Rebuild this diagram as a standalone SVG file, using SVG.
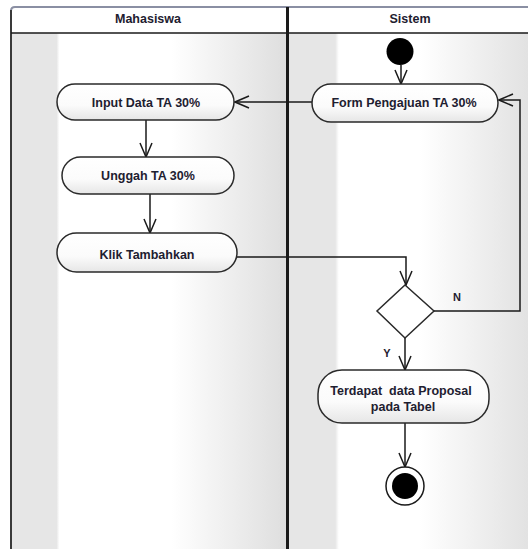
<svg xmlns="http://www.w3.org/2000/svg" width="528" height="549" viewBox="0 0 528 549">
  <style>
    .lbl { font-family: "Liberation Sans", Arial, sans-serif; font-size: 12.5px; font-weight: bold; fill: #1e2030; text-anchor: middle; }
    .act { fill: url(#nodeFill); stroke: #2a2a2a; stroke-width: 1.5; }
    .conn { fill: none; stroke: #1a1a1a; stroke-width: 1.5; }
  </style>
  <defs>
    <linearGradient id="laneL" x1="11" y1="0" x2="287" y2="0" gradientUnits="userSpaceOnUse">
      <stop offset="0" stop-color="#e6e6e6"/>
      <stop offset="0.165" stop-color="#e6e6e6"/>
      <stop offset="0.175" stop-color="#ffffff"/>
      <stop offset="0.58" stop-color="#ffffff"/>
      <stop offset="1" stop-color="#dedede"/>
    </linearGradient>
    <linearGradient id="laneR" x1="287" y1="0" x2="528" y2="0" gradientUnits="userSpaceOnUse">
      <stop offset="0" stop-color="#e6e6e6"/>
      <stop offset="0.2" stop-color="#e6e6e6"/>
      <stop offset="0.215" stop-color="#ffffff"/>
      <stop offset="0.55" stop-color="#ffffff"/>
      <stop offset="1" stop-color="#e2e2e2"/>
    </linearGradient>
    <linearGradient id="nodeFill" x1="0" y1="0" x2="0" y2="1">
      <stop offset="0" stop-color="#ffffff"/>
      <stop offset="0.6" stop-color="#fbfbfb"/>
      <stop offset="1" stop-color="#e6e6e6"/>
    </linearGradient>
    <marker id="arr" viewBox="0 0 16 14" refX="15" refY="7" markerWidth="16" markerHeight="14" markerUnits="userSpaceOnUse" orient="auto">
      <path d="M1,1 L15,7 L1,13" fill="none" stroke="#1a1a1a" stroke-width="1.5"/>
    </marker>
  </defs>

  <rect x="0" y="0" width="528" height="549" fill="#ffffff"/>

  <g id="lanes">
    <rect x="11" y="33" width="276" height="516" fill="url(#laneL)"/>
    <rect x="287" y="33" width="241" height="516" fill="url(#laneR)"/>
    <rect x="11" y="7" width="517" height="26" fill="#ffffff"/>
    <path d="M11,549 L11,11 Q11,7 15,7 L528,7" fill="none" stroke="#8a8fa3" stroke-width="2"/>
    <line x1="11" y1="10" x2="11" y2="549" stroke="#3a3a3a" stroke-width="2"/>
    <line x1="11" y1="33" x2="528" y2="33" stroke="#1a1a1a" stroke-width="1.5"/>
    <line x1="287.5" y1="7" x2="287.5" y2="549" stroke="#1a1a1a" stroke-width="3"/>
    <text class="lbl" x="148" y="23">Mahasiswa</text>
    <text class="lbl" x="410" y="23">Sistem</text>
  </g>

  <g id="connectors">
    <line class="conn" x1="401" y1="65" x2="401" y2="84" marker-end="url(#arr)"/>
    <line class="conn" x1="312" y1="102" x2="235" y2="102" marker-end="url(#arr)"/>
    <line class="conn" x1="146" y1="120" x2="146" y2="157" marker-end="url(#arr)"/>
    <line class="conn" x1="150" y1="194" x2="150" y2="233" marker-end="url(#arr)"/>
    <polyline class="conn" points="237,257 406,257 406,285" marker-end="url(#arr)"/>
    <polyline class="conn" points="434,311 520,311 520,100 499,100" marker-end="url(#arr)"/>
    <line class="conn" x1="405" y1="338" x2="405" y2="370" marker-end="url(#arr)"/>
    <line class="conn" x1="405" y1="423" x2="405" y2="467" marker-end="url(#arr)"/>
    <text class="lbl" x="457" y="301" style="font-size:11px">N</text>
    <text class="lbl" x="387" y="357" style="font-size:11px">Y</text>
  </g>

  <g id="start">
    <circle cx="400" cy="51.5" r="13.5" fill="#000000"/>
  </g>

  <g id="form">
    <rect class="act" x="312" y="84" width="186" height="38" rx="19"/>
    <text class="lbl" x="404" y="107">Form Pengajuan TA 30%</text>
  </g>

  <g id="input">
    <rect class="act" x="57" y="84" width="177" height="36" rx="18"/>
    <text class="lbl" x="146" y="107">Input Data TA 30%</text>
  </g>

  <g id="unggah">
    <rect class="act" x="62" y="157" width="172" height="37" rx="18.5"/>
    <text class="lbl" x="148" y="180">Unggah TA 30%</text>
  </g>

  <g id="klik">
    <rect class="act" x="57" y="233" width="180" height="39" rx="19.5"/>
    <text class="lbl" x="147" y="259">Klik Tambahkan</text>
  </g>

  <g id="decision">
    <polygon points="405,285 434,311 405,338 377,311" fill="#ffffff" stroke="#2a2a2a" stroke-width="1.5"/>
  </g>

  <g id="terdapat">
    <rect class="act" x="318" y="370" width="171" height="53" rx="24"/>
    <text class="lbl" x="401" y="395" xml:space="preserve">Terdapat  data Proposal</text>
    <text class="lbl" x="403" y="411">pada Tabel</text>
  </g>

  <g id="end">
    <circle cx="405" cy="486" r="19" fill="#ffffff" stroke="#1a1a1a" stroke-width="1.5"/>
    <circle cx="405" cy="486" r="13" fill="#000000"/>
  </g>
</svg>
